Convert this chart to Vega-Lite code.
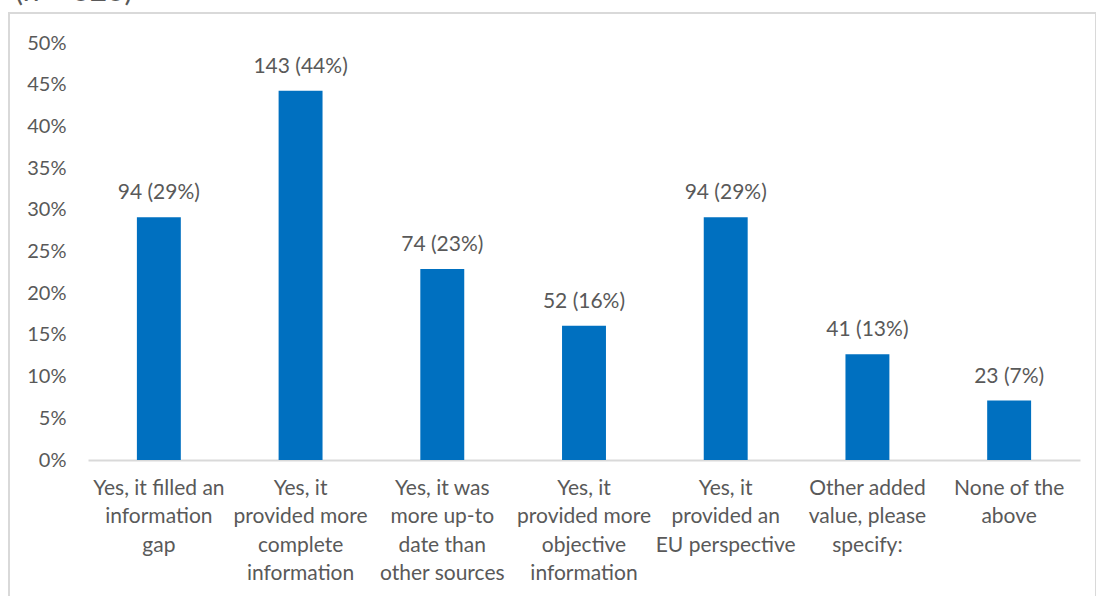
{
  "$schema": "https://vega.github.io/schema/vega-lite/v6.json",
  "width": 1087,
  "height": 584,
  "padding": {"left": 9, "top": 13, "right": 0, "bottom": 0},
  "autosize": {"type": "none"},
  "background": "white",
  "title": {
    "text": "(n = 323)",
    "anchor": "start",
    "frame": "group",
    "orient": "top",
    "offset": 0,
    "dx": 6,
    "dy": 24,
    "baseline": "bottom",
    "fontSize": 30,
    "fontWeight": "normal",
    "color": "#595959",
    "font": "Lato"
  },
  "config": {
    "view": {"stroke": "#d9d9d9", "strokeWidth": 2},
    "font": "Lato"
  },
  "data": {
    "values": [
      {"cat": "Yes, it filled an|information|gap", "pct": 0.291, "label": "94 (29%)"},
      {"cat": "Yes, it|provided more|complete|information", "pct": 0.4427, "label": "143 (44%)"},
      {"cat": "Yes, it was|more up-to|date than|other sources", "pct": 0.2291, "label": "74 (23%)"},
      {"cat": "Yes, it|provided more|objective|information", "pct": 0.161, "label": "52 (16%)"},
      {"cat": "Yes, it|provided an|EU perspective", "pct": 0.291, "label": "94 (29%)"},
      {"cat": "Other added|value, please|specify:", "pct": 0.1269, "label": "41 (13%)"},
      {"cat": "None of the|above", "pct": 0.0712, "label": "23 (7%)"}
    ]
  },
  "encoding": {
    "x": {
      "field": "cat",
      "type": "nominal",
      "sort": null,
      "scale": {"range": [79, 1071], "paddingInner": 0.69, "paddingOuter": 0.345},
      "axis": {
        "title": null,
        "labelAngle": 0,
        "labelExpr": "split(datum.label, '|')",
        "labelFontSize": 21,
        "labelColor": "#595959",
        "labelLineHeight": 28.6,
        "labelBaseline": "top",
        "labelPadding": 17,
        "labelLimit": 300,
        "ticks": false,
        "domainColor": "#d9d9d9",
        "domainWidth": 2,
        "offset": -137
      }
    },
    "y": {
      "field": "pct",
      "type": "quantitative",
      "scale": {"domain": [0, 0.5], "range": [447, 30], "nice": false},
      "axis": {
        "title": null,
        "format": ".0%",
        "values": [0, 0.05, 0.1, 0.15, 0.2, 0.25, 0.3, 0.35, 0.4, 0.45, 0.5],
        "grid": false,
        "ticks": false,
        "domain": false,
        "labelFontSize": 20,
        "labelColor": "#595959",
        "labelPadding": 3,
        "offset": -60
      }
    }
  },
  "layer": [
    {"mark": {"type": "bar", "color": "#0070C0"}},
    {
      "mark": {"type": "text", "fontSize": 21, "color": "#595959", "baseline": "alphabetic", "dy": -18},
      "encoding": {"text": {"field": "label"}}
    }
  ]
}
